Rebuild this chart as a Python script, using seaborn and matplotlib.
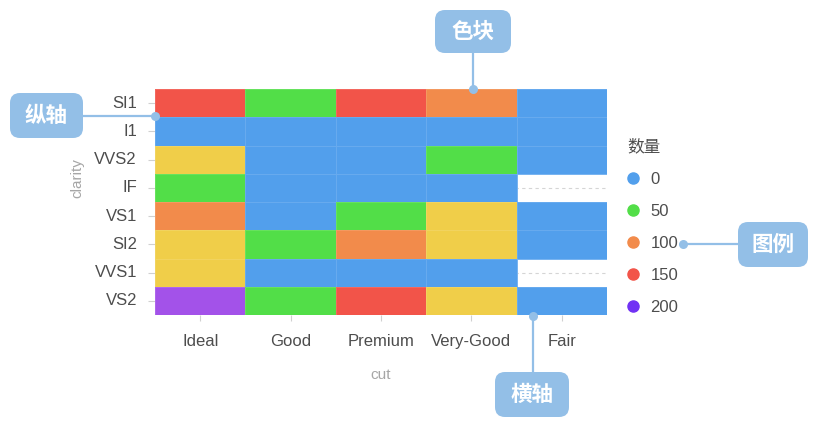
import numpy as np
import pandas as pd
import matplotlib.pyplot as plt
import seaborn as sns
from matplotlib.colors import ListedColormap, BoundaryNorm
from matplotlib.lines import Line2D
from matplotlib.patches import FancyBboxPatch

# data
cuts = ["Ideal", "Good", "Premium", "Very-Good", "Fair"]
clarities = ["SI1", "I1", "VVS2", "IF", "VS1", "SI2", "VVS1", "VS2"]
counts = [
    [150, 50, 150, 100, 0],
    [0, 0, 0, 0, 0],
    [250, 0, 0, 50, 0],
    [50, 0, 0, 0, np.nan],
    [100, 0, 50, 250, 0],
    [250, 50, 100, 250, 0],
    [250, 0, 0, 0, np.nan],
    [200, 50, 150, 250, 0],
]
levels = [0, 50, 100, 150, 200, 250]
level_colors = ["#529FEC", "#52DE48", "#F28B4B", "#F25449", "#A352E9", "#F0CE49"]
legend_values = [0, 50, 100, 150, 200]
legend_colors = ["#529FEC", "#52DE48", "#F28B4B", "#F25449", "#7132F4"]

TEXT = "#4d4d4d"
AXIS_TITLE = "#a6a6a6"
TICK = "#d0d0d0"
CALLOUT = "#93BFE7"


def draw_heatmap(fig):
    ax = fig.add_axes([155 / 815, 115 / 430, 452 / 815, 226 / 430])
    df = pd.DataFrame(counts, index=clarities, columns=cuts)

    bounds = [levels[0] - 25] + [v + 25 for v in levels]
    cmap = ListedColormap(level_colors)
    norm = BoundaryNorm(bounds, cmap.N)

    # dashed row guides, only visible where a cell is empty
    ax.hlines(np.arange(len(clarities)) + 0.5, 0, len(cuts), colors="#d5d5d5",
              linestyles=(0, (3, 3)), linewidth=0.8, zorder=0.5)

    sns.heatmap(df, ax=ax, cmap=cmap, norm=norm, cbar=False,
                linewidths=0.5, linecolor=(1, 1, 1, 0.12))

    ax.tick_params(axis="y", labelrotation=0, length=5, width=0.8, color=TICK,
                   pad=8, labelsize=12, labelcolor=TEXT, left=True)
    ax.tick_params(axis="x", labelrotation=0, length=4.5, width=0.8, color=TICK,
                   pad=9, labelsize=12, labelcolor=TEXT, bottom=True)

    ax.set_xlabel("cut", fontsize=11, color=AXIS_TITLE, va="center")
    ax.xaxis.set_label_coords(0.5, -0.2655)
    ax.set_ylabel("clarity", fontsize=11, color=AXIS_TITLE, va="center")
    ax.yaxis.set_label_coords(-0.172, 0.606)
    return ax


def draw_legend(fig):
    handles = [Line2D([], [], marker="o", ls="", ms=8, mfc=c, mec=c)
               for c in legend_colors]
    leg = fig.legend(handles, [str(v) for v in legend_values], title="数量",
                     loc="upper left", bbox_to_anchor=(627 / 815, 1 - 139 / 430),
                     frameon=False, fontsize=12, title_fontsize=12,
                     handlelength=0.7, handletextpad=0.7, labelspacing=1.02,
                     borderpad=0, borderaxespad=0, alignment="left",
                     labelcolor=TEXT)
    leg.get_title().set_color(TEXT)


def draw_callouts(fig):
    # overlay in pixel units, y measured from the top
    ov = fig.add_axes([0, 0, 1, 1], zorder=10)
    ov.set_xlim(0, 815)
    ov.set_ylim(430, 0)
    ov.axis("off")
    ov.patch.set_alpha(0)

    notes = [
        ("色块", (435, 10, 76, 43), [(473, 53), (473, 89)]),
        ("纵轴", (10, 93, 73, 45), [(83, 116), (155, 116)]),
        ("图例", (738, 222, 70, 45), [(738, 244), (683, 244)]),
        ("横轴", (495, 372, 74, 45), [(533, 372), (533, 316)]),
    ]
    for label, (x, y, w, h), pts in notes:
        ov.add_patch(FancyBboxPatch((x, y), w, h,
                                    boxstyle="round,pad=0,rounding_size=10",
                                    fc=CALLOUT, ec="none"))
        ov.text(x + w / 2, y + h / 2, label, color="white", fontsize=15.5,
                fontweight="bold", ha="center", va="center",
                family=["Noto Sans CJK SC", "DejaVu Sans"])
        xs, ys = zip(*pts)
        ov.plot(xs, ys, color=CALLOUT, lw=1.6, solid_capstyle="butt")
        ov.plot(xs[-1], ys[-1], marker="o", ms=6.5, color=CALLOUT, mec="none")


def main():
    sns.set_theme(style="white")
    plt.rcParams["font.family"] = ["Liberation Sans", "Noto Sans CJK SC", "DejaVu Sans"]

    fig = plt.figure(figsize=(8.15, 4.3), dpi=100)
    draw_heatmap(fig)
    draw_legend(fig)
    draw_callouts(fig)
    fig.savefig("out.png", dpi=100)


if __name__ == "__main__":
    main()
